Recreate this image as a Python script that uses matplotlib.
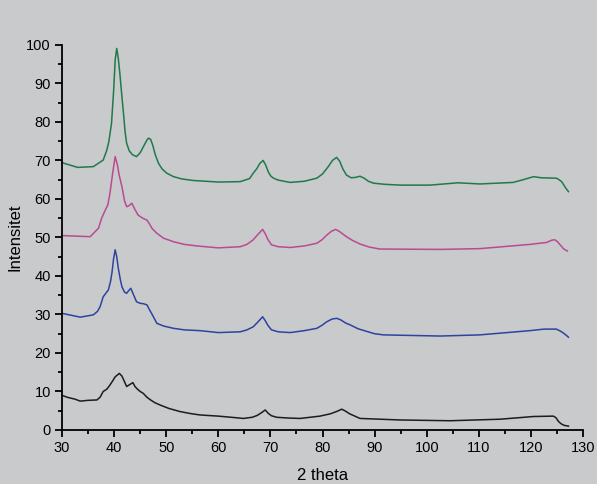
import matplotlib
matplotlib.use('Agg')
import matplotlib.pyplot as plt
from matplotlib.ticker import MultipleLocator

plt.rcParams['font.family'] = ['Liberation Sans', 'DejaVu Sans']

# 2 theta vs intensity, four samples (offset stacked)
x_black = [30.0, 31.0, 32.5, 33.5, 35.0, 36.7, 37.3, 37.9, 38.6, 39.1, 39.6, 40.2, 41.0, 41.5, 41.9,
           42.4, 43.0, 43.6, 44.0, 44.4, 45.0, 45.6, 46.3, 47.0, 47.8, 48.8, 50.5, 52.6, 54.5,
           56.5, 60.0, 62.5, 64.8, 66.5, 67.5, 68.4, 69.0, 69.6, 70.2, 71.2, 73.5, 75.7, 79.5,
           81.5, 82.7, 83.7, 84.4, 85.2, 86.2, 87.2, 94.9, 104.5, 114.1, 120.5, 124.3, 124.8,
           125.3, 125.8, 126.4, 127.2]
y_black = [9.0, 8.5, 8.0, 7.5, 7.7, 7.8, 8.5, 10.0, 10.6, 11.5, 12.5, 13.8, 14.7, 14.0, 12.8,
           11.3, 11.8, 12.3, 11.3, 10.7, 10.0, 9.5, 8.5, 7.8, 7.1, 6.5, 5.6, 4.8, 4.3,
           3.9, 3.6, 3.3, 3.0, 3.3, 3.8, 4.6, 5.2, 4.3, 3.7, 3.3, 3.1, 3.0, 3.6,
           4.2, 4.8, 5.4, 4.9, 4.2, 3.6, 3.0, 2.6, 2.4, 2.8, 3.5, 3.6, 3.2,
           2.2, 1.6, 1.2, 1.0]

x_blue = [30.0, 33.5, 36.0, 36.8, 37.3, 37.9, 38.4, 38.9, 39.3, 39.6, 39.9, 40.2, 40.5, 40.8, 41.2,
          41.5, 42.0, 42.4, 42.8, 43.2, 43.7, 44.3, 45.0, 45.6, 46.3, 46.8, 47.3, 48.2, 49.5,
          51.4, 53.5, 56.5, 60.0, 64.2, 65.5, 66.7, 67.7, 68.5, 69.0, 69.5, 70.2, 71.5, 73.8,
          76.5, 78.9, 79.9, 80.8, 81.8, 82.7, 83.5, 84.4, 85.3, 86.8, 88.5, 90.0, 91.7, 102.6,
          110.2, 119.8, 122.5, 124.9, 125.9, 126.6, 127.2]
y_blue = [30.3, 29.3, 29.9, 30.8, 32.0, 34.6, 35.5, 36.4, 38.5, 41.0, 44.5, 46.8, 45.0, 42.0, 39.0,
          37.2, 35.8, 35.5, 36.2, 36.8, 35.2, 33.3, 32.9, 32.8, 32.5, 31.2, 30.0, 27.7, 27.0,
          26.4, 26.0, 25.8, 25.3, 25.5, 26.0, 26.8, 28.2, 29.4, 28.4, 27.2, 26.0, 25.5, 25.3,
          25.8, 26.4, 27.2, 28.1, 28.8, 29.0, 28.6, 27.8, 27.3, 26.3, 25.6, 25.0, 24.7, 24.4,
          24.7, 25.8, 26.2, 26.2, 25.5, 24.8, 24.1]

x_pink = [30.0, 35.4, 37.0, 37.6, 38.3, 38.8, 39.2, 39.7, 40.2, 40.6, 41.0, 41.5, 42.0, 42.4, 42.9,
          43.4, 43.9, 44.6, 45.5, 46.3, 46.8, 47.3, 48.2, 49.5, 51.4, 53.5, 55.9, 60.0, 64.2,
          65.5, 66.7, 67.6, 68.5, 69.0, 69.5, 70.2, 71.5, 73.8, 76.5, 78.9, 79.9, 80.8, 81.7,
          82.5, 83.2, 84.0, 84.6, 85.8, 87.2, 89.0, 91.0, 102.6, 110.2, 119.8, 123.0, 124.0,
          124.6, 125.1, 125.6, 126.3, 127.0]
y_pink = [50.5, 50.2, 52.4, 55.0, 57.1, 58.5, 61.5, 66.5, 71.0, 69.0, 66.0, 63.2, 59.5, 58.0, 58.3,
          58.9, 57.5, 55.8, 55.0, 54.5, 53.5, 52.3, 51.1, 49.8, 48.9, 48.2, 47.8, 47.3, 47.6,
          48.2, 49.4, 50.8, 52.1, 51.0, 49.5, 48.1, 47.6, 47.4, 47.8, 48.5, 49.4, 50.6, 51.6,
          52.1, 51.6, 50.8, 50.2, 49.2, 48.3, 47.5, 47.0, 46.9, 47.1, 48.2, 48.7, 49.3,
          49.4, 48.9, 48.1, 47.0, 46.5]

x_green = [30.0, 30.3, 33.0, 36.0, 37.9, 38.6, 39.0, 39.5, 39.9, 40.2, 40.5, 40.8, 41.1, 41.5, 41.8,
           42.1, 42.4, 42.9, 43.5, 44.3, 45.0, 45.7, 46.3, 46.6, 47.0, 47.4, 47.9, 48.5, 49.2,
           50.1, 51.4, 53.0, 55.2, 60.0, 64.2, 66.0, 66.7, 67.4, 68.0, 68.6, 69.1, 69.6, 70.1,
           70.6, 71.5, 73.8, 76.5, 78.9, 80.0, 81.1, 81.9, 82.7, 83.3, 83.9, 84.6, 85.5, 86.3,
           87.2, 88.0, 88.8, 89.8, 92.0, 95.0, 100.6, 106.0, 110.2, 116.6, 118.5, 120.5, 122.0,
           124.9, 125.4, 125.9, 126.6, 127.2]
y_green = [69.5, 69.3, 68.2, 68.4, 70.1, 72.7, 75.0, 79.7, 88.0, 96.1, 99.1, 96.5, 92.6, 86.5, 82.2,
           77.5, 74.5, 72.5, 71.5, 71.0, 72.0, 73.8, 75.3, 75.8, 75.5, 74.0, 71.5, 69.3, 67.8,
           66.7, 65.8, 65.2, 64.8, 64.4, 64.5, 65.3, 66.7, 67.9, 69.3, 70.0, 68.8, 67.0, 65.9,
           65.4, 64.9, 64.3, 64.6, 65.4, 66.5, 68.4, 70.0, 70.8, 69.8, 67.8, 66.2, 65.5, 65.6,
           65.9, 65.4, 64.6, 64.1, 63.8, 63.6, 63.6, 64.2, 63.9, 64.3, 65.0, 65.8, 65.5,
           65.4, 65.0, 64.5, 63.0, 61.9]

bg = '#c8cacb'
fig = plt.figure(figsize=(5.97, 4.84), dpi=100, facecolor=bg)
ax = fig.add_axes([0.1039, 0.1116, 0.8727, 0.7955])
ax.set_facecolor(bg)

ax.plot(x_black, y_black, color='#1c1c1c', linewidth=1.1)
ax.plot(x_blue, y_blue, color='#2d43a0', linewidth=1.1)
ax.plot(x_pink, y_pink, color='#bb4a92', linewidth=1.1)
ax.plot(x_green, y_green, color='#1f7a4c', linewidth=1.1)

ax.set_xlim(30, 130)
ax.set_ylim(0, 100)
ax.xaxis.set_major_locator(MultipleLocator(10))
ax.xaxis.set_minor_locator(MultipleLocator(5))
ax.yaxis.set_major_locator(MultipleLocator(10))
ax.yaxis.set_minor_locator(MultipleLocator(5))

for s in ['top', 'right']:
    ax.spines[s].set_visible(False)
for s in ['left', 'bottom']:
    ax.spines[s].set_linewidth(1.3)
ax.tick_params(which='major', direction='out', length=5, width=1.3, labelsize=10.5, pad=3)
ax.tick_params(which='minor', direction='out', length=3, width=1.3)

ax.set_xlabel('2 theta', fontsize=12, labelpad=9)
ax.set_ylabel('Intensitet', fontsize=12, labelpad=3)

fig.savefig('out.png', dpi=100, facecolor=bg)
